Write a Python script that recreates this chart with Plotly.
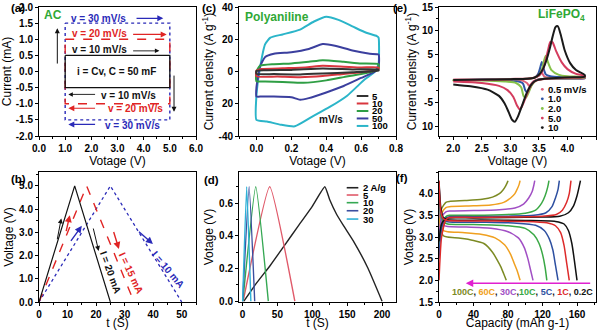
import plotly.graph_objects as go

FONT = "Liberation Sans, Arial, sans-serif"

# ---------------- (a) ideal capacitor CV rectangles ----------------
a_voltage = [1.0, 5.0, 5.0, 1.0, 1.0]
a_i_10 = [0.5, 0.5, -0.5, -0.5, 0.5]
a_i_20 = [1.0, 1.0, -1.0, -1.0, 1.0]
a_i_30 = [1.5, 1.5, -1.5, -1.5, 1.5]

# ---------------- (b) ideal capacitor galvanostatic cycles ----------------
b_v = [0.0, 5.0, 0.0]
b_t_20 = [0.0, 12.5, 25.0]
b_t_15 = [0.0, 16.7, 33.3]
b_t_10 = [0.0, 25.0, 50.0]

# ---------------- (c) polyaniline CV loops (A/g vs V) ----------------
c_rates = ["5", "10", "20", "50", "100"]
c_x_5 = [0.0, 0.0, 0.05, 0.2, 0.38, 0.55, 0.7, 0.7, 0.55, 0.38, 0.25, 0.1, 0.0]
c_y_5 = [-1.5, 0.3, 0.8, 1.0, 1.8, 1.3, 1.2, 0.6, -0.5, -1.3, -1.8, -1.6, -1.5]
c_x_10 = [0.0, 0.0, 0.03, 0.15, 0.28, 0.38, 0.5, 0.6, 0.7, 0.7, 0.6, 0.5, 0.38, 0.25, 0.12, 0.0]
c_y_10 = [-3.0, 0.5, 1.5, 2.0, 2.5, 3.5, 3.0, 2.5, 2.5, 1.5, -0.5, -1.5, -2.8, -3.5, -3.1, -3.0]
c_x_20 = [0.0, 0.0, 0.02, 0.1, 0.2, 0.3, 0.38, 0.5, 0.6, 0.7, 0.7, 0.68, 0.6, 0.5, 0.4, 0.27, 0.15, 0.05, 0.0]
c_y_20 = [-6.0, 0.0, 3.5, 4.5, 5.0, 6.0, 7.0, 6.0, 5.0, 4.5, 1.5, 0.5, -1.5, -3.5, -5.5, -7.0, -6.5, -6.2, -6.0]
c_x_50 = [0.0, 0.0, 0.02, 0.05, 0.1, 0.2, 0.3, 0.38, 0.45, 0.55, 0.65, 0.7, 0.7, 0.68, 0.6, 0.5, 0.4, 0.3, 0.25, 0.2, 0.1, 0.03, 0.0]
c_y_50 = [-15.5, -10.0, 3.0, 9.0, 11.0, 12.0, 14.0, 17.0, 16.0, 13.0, 11.0, 10.5, 3.0, 0.0, -4.0, -9.0, -13.0, -16.5, -17.5, -16.0, -15.5, -15.5, -15.5]
c_x_100 = [0.0, 0.0, 0.02, 0.05, 0.08, 0.15, 0.25, 0.33, 0.4, 0.47, 0.55, 0.63, 0.69, 0.7, 0.7, 0.68, 0.62, 0.52, 0.42, 0.32, 0.22, 0.14, 0.06, 0.0]
c_y_100 = [-30.0, -15.0, 2.0, 17.0, 21.0, 23.0, 26.0, 31.0, 34.0, 32.0, 28.0, 24.0, 22.0, 21.0, 5.0, 0.0, -5.0, -15.0, -22.0, -28.0, -34.0, -33.0, -31.0, -30.0]

# ---------------- (d) polyaniline charge/discharge ----------------
d_rates = ["2 A/g", "5", "10", "20", "30"]
d_t_2 = [2, 20, 40, 60, 80, 100, 118, 125, 135, 145, 160, 180, 200]
d_v_2 = [0.0, 0.11, 0.22, 0.34, 0.46, 0.58, 0.70, 0.62, 0.53, 0.46, 0.36, 0.20, 0.0]
d_t_5 = [1, 39, 75]
d_v_5 = [0.0, 0.70, 0.0]
d_t_10 = [0.5, 19, 37]
d_v_10 = [0.0, 0.70, 0.0]
d_t_20 = [0.3, 9.5, 17.5]
d_v_20 = [0.0, 0.70, 0.0]
d_t_30 = [0.2, 6, 12]
d_v_30 = [0.0, 0.70, 0.0]

# ---------------- (e) LiFePO4 CV (anodic then cathodic sweep) ----------------
e_rates = ["0.5 mV/s", "1.0", "2.0", "5.0", "10"]
e_v_05 = [2.0, 2.5, 3.0, 3.35, 3.45, 3.5, 3.53, 3.56, 3.6, 3.8, 4.3,
          4.3, 3.8, 3.5, 3.42, 3.37, 3.33, 3.29, 3.2, 3.0, 2.5, 2.0]
e_i_05 = [-0.2, -0.15, -0.05, 0.05, 0.4, 1.2, 1.8, 1.1, 0.4, 0.2, 0.1,
          0.05, 0.0, -0.1, -0.4, -1.0, -1.5, -0.9, -0.35, -0.2, -0.2, -0.2]
e_v_1 = [2.0, 2.5, 3.0, 3.3, 3.42, 3.48, 3.52, 3.55, 3.58, 3.62, 3.7, 3.9, 4.3,
         4.3, 4.0, 3.6, 3.48, 3.4, 3.35, 3.3, 3.26, 3.22, 3.1, 2.9, 2.5, 2.0]
e_i_1 = [-0.3, -0.25, -0.1, 0.0, 0.2, 0.8, 2.2, 3.5, 2.2, 0.9, 0.5, 0.3, 0.2,
         0.1, 0.05, 0.0, -0.2, -0.8, -1.8, -2.9, -2.4, -1.0, -0.5, -0.35, -0.3, -0.3]
e_v_2 = [2.0, 2.5, 3.0, 3.3, 3.42, 3.5, 3.55, 3.59, 3.62, 3.66, 3.72, 3.85, 4.0, 4.3,
         4.3, 4.0, 3.6, 3.5, 3.43, 3.37, 3.32, 3.27, 3.23, 3.19, 3.1, 2.9, 2.5, 2.0]
e_i_2 = [-0.4, -0.3, -0.15, 0.0, 0.2, 0.7, 1.8, 3.8, 4.8, 3.4, 1.8, 0.8, 0.5, 0.3,
         0.2, 0.1, 0.0, -0.2, -0.6, -1.5, -2.9, -4.0, -3.6, -1.8, -0.9, -0.6, -0.4, -0.4]
e_v_5 = [2.0, 2.5, 3.0, 3.3, 3.42, 3.5, 3.56, 3.61, 3.66, 3.7, 3.74, 3.8, 3.9, 4.0, 4.15, 4.3,
         4.3, 4.0, 3.7, 3.55, 3.45, 3.38, 3.32, 3.26, 3.2, 3.16, 3.12, 3.05, 2.95, 2.8, 2.5, 2.0]
e_i_5 = [-0.4, -0.3, -0.15, 0.0, 0.2, 0.6, 1.6, 3.4, 6.0, 7.7, 7.6, 5.8, 3.4, 2.0, 1.0, 0.6,
         0.3, 0.2, 0.05, -0.1, -0.4, -1.1, -2.4, -4.2, -5.9, -6.4, -5.7, -3.8, -2.4, -1.5, -0.9, -0.6]
e_v_10 = [2.0, 2.5, 3.0, 3.3, 3.42, 3.5, 3.57, 3.63, 3.69, 3.74, 3.79, 3.83, 3.88, 3.95, 4.05, 4.15, 4.3,
          4.3, 4.1, 3.8, 3.6, 3.5, 3.42, 3.35, 3.28, 3.2, 3.13, 3.08, 3.03, 2.97, 2.9, 2.8, 2.6, 2.3, 2.0]
e_i_10 = [-0.3, -0.2, -0.1, 0.0, 0.2, 0.8, 2.0, 3.8, 6.3, 8.8, 10.8, 11.0, 9.3, 6.0, 3.2, 1.8, 0.8,
          0.4, 0.3, 0.15, 0.0, -0.2, -0.6, -1.5, -3.2, -5.8, -8.0, -9.0, -8.6, -7.0, -5.2, -3.6, -2.3, -1.6, -1.2]

# ---------------- (f) LiFePO4 charge / discharge at various C-rates ----------------
f_rates = ["0.2C", "1C", "5C", "10C", "30C", "60C", "100C"]
f_chg_q_02 = [0, 3, 8, 12, 40, 80, 120, 140, 150, 156, 160, 164]
f_chg_v_02 = [2.9, 3.3, 3.42, 3.44, 3.44, 3.45, 3.46, 3.48, 3.56, 3.72, 3.95, 4.3]
f_dis_q_02 = [0, 2, 5, 10, 50, 100, 135, 145, 150, 154, 157, 160]
f_dis_v_02 = [4.3, 3.7, 3.45, 3.4, 3.39, 3.38, 3.36, 3.3, 3.15, 2.85, 2.45, 2.0]
f_chg_q_1 = [0, 3, 8, 12, 40, 80, 120, 136, 143, 148, 151, 153]
f_chg_v_1 = [2.0, 3.0, 3.4, 3.45, 3.45, 3.46, 3.48, 3.52, 3.62, 3.8, 4.0, 4.3]
f_dis_q_1 = [0, 2, 5, 10, 50, 100, 125, 135, 141, 145, 148, 151]
f_dis_v_1 = [4.3, 3.6, 3.42, 3.38, 3.37, 3.36, 3.33, 3.26, 3.1, 2.8, 2.4, 2.0]
f_chg_q_5 = [0, 3, 8, 12, 40, 80, 110, 124, 131, 135, 138, 139.5]
f_chg_v_5 = [2.5, 3.2, 3.44, 3.47, 3.47, 3.48, 3.5, 3.56, 3.7, 3.9, 4.1, 4.3]
f_dis_q_5 = [0, 2, 5, 10, 50, 90, 112, 122, 128, 132, 135, 138]
f_dis_v_5 = [4.25, 3.6, 3.4, 3.35, 3.34, 3.32, 3.27, 3.15, 2.95, 2.7, 2.35, 2.0]
f_chg_q_10 = [0, 3, 8, 12, 40, 80, 100, 112, 119, 123, 126, 127.5]
f_chg_v_10 = [2.8, 3.3, 3.47, 3.5, 3.5, 3.52, 3.55, 3.62, 3.78, 3.95, 4.15, 4.3]
f_dis_q_10 = [0, 2, 5, 10, 40, 80, 100, 110, 116, 120, 123, 125]
f_dis_v_10 = [4.2, 3.5, 3.35, 3.3, 3.29, 3.26, 3.2, 3.05, 2.85, 2.6, 2.3, 2.0]
f_chg_q_30 = [0, 3, 8, 12, 40, 70, 88, 98, 104, 108, 110, 111]
f_chg_v_30 = [3.0, 3.45, 3.58, 3.6, 3.61, 3.63, 3.67, 3.76, 3.9, 4.05, 4.2, 4.3]
f_dis_q_30 = [0, 2, 5, 10, 30, 60, 80, 92, 99, 103, 106, 109]
f_dis_v_30 = [4.1, 3.4, 3.27, 3.24, 3.23, 3.2, 3.12, 2.98, 2.75, 2.5, 2.25, 2.0]
f_chg_q_60 = [0, 3, 8, 12, 40, 60, 75, 83, 88, 91, 93, 94]
f_chg_v_60 = [3.2, 3.55, 3.68, 3.7, 3.72, 3.74, 3.8, 3.9, 4.0, 4.12, 4.22, 4.3]
f_dis_q_60 = [0, 2, 5, 10, 30, 50, 65, 76, 83, 87, 91, 94]
f_dis_v_60 = [4.0, 3.3, 3.15, 3.12, 3.1, 3.06, 2.98, 2.82, 2.6, 2.4, 2.2, 2.0]
f_chg_q_100 = [0, 3, 8, 12, 30, 50, 62, 70, 74, 77, 79, 80]
f_chg_v_100 = [3.3, 3.65, 3.8, 3.82, 3.84, 3.87, 3.92, 4.0, 4.08, 4.17, 4.25, 4.3]
f_dis_q_100 = [0, 2, 5, 10, 25, 40, 52, 62, 68, 72, 75, 78]
f_dis_v_100 = [3.9, 3.2, 3.03, 3.0, 2.97, 2.92, 2.85, 2.65, 2.45, 2.3, 2.15, 2.0]

# ---------------- colours ----------------
BLACK, RED, BLUE = "#111111", "#e02424", "#2a2ab8"
GREEN_TXT = "#2fa836"
c_colors = ["#333333", "#d9363e", "#2f9e44", "#3b3f9e", "#2bb5c9"]
d_colors = ["#222222", "#e05a6a", "#35a853", "#3b4fa0", "#2fb0d6"]
e_colors = ["#e0607a", "#2f56a6", "#86c24a", "#d43c5e", "#1a1a1a"]
f_colors = ["#111111", "#dd2a2a", "#2d4fa0", "#3aa845", "#a14fc4", "#f0a020", "#7c8a23"]

fig = go.Figure()


def line(x, y, xa, ya, color, width=1.5, dash="solid", shape="linear", smoothing=0.6):
    fig.add_trace(go.Scatter(
        x=x, y=y, xaxis=xa, yaxis=ya, mode="lines", showlegend=False, hoverinfo="skip",
        line=dict(color=color, width=width, dash=dash, shape=shape,
                  smoothing=smoothing if shape == "spline" else None)))


# (a)
line(a_voltage, a_i_30, "x", "y", BLUE, 1.4, "dot")
line(a_voltage, a_i_20, "x", "y", RED, 1.4, "dash")
line(a_voltage, a_i_10, "x", "y", BLACK, 1.3)

# (b)
line(b_t_10, b_v, "x4", "y4", BLUE, 1.3, "dot")
line(b_t_15, b_v, "x4", "y4", RED, 1.4, "dash")
line(b_t_20, b_v, "x4", "y4", BLACK, 1.2)

# (c)
c_x = [c_x_5, c_x_10, c_x_20, c_x_50, c_x_100]
c_y = [c_y_5, c_y_10, c_y_20, c_y_50, c_y_100]
for xs, ys, col in reversed(list(zip(c_x, c_y, c_colors))):
    line(xs, ys, "x2", "y2", col, 2.0, shape="spline", smoothing=0.5)

# (d)
d_t = [d_t_2, d_t_5, d_t_10, d_t_20, d_t_30]
d_v = [d_v_2, d_v_5, d_v_10, d_v_20, d_v_30]
for xs, ys, col in zip(d_t, d_v, d_colors):
    line(xs, ys, "x5", "y5", col, 1.4, shape="spline", smoothing=0.4)

# (e)
e_v = [e_v_05, e_v_1, e_v_2, e_v_5, e_v_10]
e_i = [e_i_05, e_i_1, e_i_2, e_i_5, e_i_10]
for xs, ys, col in zip(e_v, e_i, e_colors):
    line(xs, ys, "x3", "y3", col, 2.0, shape="spline", smoothing=0.6)

# (f)
f_chg = [(f_chg_q_02, f_chg_v_02), (f_chg_q_1, f_chg_v_1), (f_chg_q_5, f_chg_v_5),
         (f_chg_q_10, f_chg_v_10), (f_chg_q_30, f_chg_v_30), (f_chg_q_60, f_chg_v_60),
         (f_chg_q_100, f_chg_v_100)]
f_dis = [(f_dis_q_02, f_dis_v_02), (f_dis_q_1, f_dis_v_1), (f_dis_q_5, f_dis_v_5),
         (f_dis_q_10, f_dis_v_10), (f_dis_q_30, f_dis_v_30), (f_dis_q_60, f_dis_v_60),
         (f_dis_q_100, f_dis_v_100)]
order = [6, 5, 4, 3, 2, 0, 1]
for k in order:
    line(*f_chg[k], "x6", "y6", f_colors[k], 1.5, shape="spline", smoothing=0.6)
    line(*f_dis[k], "x6", "y6", f_colors[k], 1.5, shape="spline", smoothing=0.6)

# ---------------- axes ----------------
TICKFONT = dict(family=FONT, size=10, color="black", weight="bold")
TITLEFONT = dict(family=FONT, size=12, color="black")


def axis(domain, rng, title, standoff, **kw):
    d = dict(domain=domain, range=rng, showline=True, linecolor="black", linewidth=1,
             mirror=True, ticks="outside", ticklen=3, tickwidth=1, tickcolor="black",
             showgrid=False, zeroline=False, tickfont=TICKFONT, automargin=False,
             title=dict(text=title, font=TITLEFONT, standoff=standoff))
    d.update(kw)
    return d


X1, X2, X3 = [39 / 600, 196 / 600], [239 / 600, 396 / 600], [439 / 600, 596 / 600]
YT, YB = [1 - 136 / 330, 1 - 7 / 330], [1 - 302 / 330, 1 - 172 / 330]


def minor(dt):
    return dict(ticks="outside", ticklen=2, tickcolor="black", dtick=dt, showgrid=False)


fig.update_layout(
    xaxis=axis(X1, [0, 6], "Votage (V)", 0, anchor="y", tickvals=[0, 1, 2, 3, 4, 5, 6],
               ticktext=["0.0", "1.0", "2.0", "3.0", "4.0", "5.0", "6.0"], minor=minor(0.5)),
    yaxis=axis(YT, [-2, 2], "Current (mA)", 2, anchor="x", tickvals=[-2, -1.5, -1, -0.5, 0, 0.5, 1, 1.5, 2],
               ticktext=["-2.0", "-1.5", "-1.0", "-0.5", "0.0", "0.5", "1.0", "1.5", "2.0"]),
    xaxis2=axis(X2, [-0.1, 0.8], "Votage (V)", 0, anchor="y2", tickvals=[0, 0.2, 0.4, 0.6, 0.8],
                ticktext=["0.0", "0.2", "0.4", "0.6", "0.8"], minor=minor(0.1)),
    yaxis2=axis(YT, [-40, 40], "Current density (A g<sup>-1</sup>)", 2, anchor="x2",
                tickvals=[-40, -20, 0, 20, 40], ticktext=["-40", "20", "0", "20", "40"], minor=minor(10)),
    xaxis3=axis(X3, [1.75, 4.5], "Voltage (V)", 0, anchor="y3", tickvals=[2, 2.5, 3, 3.5, 4, 4.5],
                ticktext=["2.0", "2.5", "3.0", "3.5", "4.0", "4.5"], minor=minor(0.25)),
    yaxis3=axis(YT, [-12, 15], "Current density (A g<sup>-1</sup>)", 2, anchor="x3",
                tickvals=[-10, -5, 0, 5, 10, 15], ticktext=["10", "-5", "0", "5", "10", "15"], minor=minor(2.5)),
    xaxis4=axis(X1, [0, 55], "t (S)", 0, anchor="y4", tickvals=[0, 10, 20, 30, 40, 50], minor=minor(5)),
    yaxis4=axis(YB, [0, 5.6], "Voltage (V)", 2, anchor="x4", tickvals=[0, 1, 2, 3, 4, 5],
                ticktext=["0.0", "1.0", "2.0", "3.0", "4.0", "5.0"], minor=minor(0.5)),
    xaxis5=axis(X2, [-5, 220], "t (S)", 0, anchor="y5", tickvals=[0, 50, 100, 150, 200], minor=minor(25)),
    yaxis5=axis(YB, [-0.005, 0.79], "Votage (V)", 2, anchor="x5", tickvals=[0, 0.2, 0.4, 0.6],
                ticktext=["0.0", "0.2", "0.4", "0.6"], minor=minor(0.1)),
    xaxis6=axis(X3, [0, 182], "Capacity (mAh g-1)", 0, anchor="y6", tickvals=[0, 40, 80, 120, 160], minor=minor(20)),
    yaxis6=axis(YB, [1.5, 4.5], "Votage (V)", 2, anchor="x6", tickvals=[1.5, 2, 2.5, 3, 3.5, 4],
                ticktext=["1.5", "2.0", "2.5", "3.0", "3.5", "4.0"], minor=minor(0.25)),
)

ann = []
shapes = []


def text(x, y, s, xref, yref, color="black", size=10, bold=True, **kw):
    kw.setdefault("yanchor", "middle")
    ann.append(dict(x=x, y=y, xref=xref, yref=yref, text=s, showarrow=False,
                    font=dict(family=FONT, size=size, color=color, weight="bold" if bold else "normal"), **kw))


def arrow(x0, y0, x1, y1, xr, yr, color, width=1.2):
    ann.append(dict(x=x1, y=y1, ax=x0, ay=y0, xref=xr, yref=yr, axref=xr, ayref=yr, text="",
                    showarrow=True, arrowhead=2, arrowsize=1, arrowwidth=width, arrowcolor=color))


# panel labels
for lab, px, py in [("(a)", 9, 8), ("(c)", 209, 8), ("(e)", 409, 8),
                    ("(b)", 9, 179), ("(d)", 211, 180), ("(f)", 410, 178)]:
    text(px / 600, 1 - py / 330, lab, "paper", "paper", size=11.5)

# (a) annotations
text(0.52, 1.75, "AC", "x", "y", GREEN_TXT, 12)
text(2.29, 1.65, "v = 30 mV/s", "x", "y", BLUE)
text(2.33, 1.18, "v = 20 mV/s", "x", "y", RED)
text(2.33, 0.67, "v = 10 mV/s", "x", "y", BLACK)
text(2.95, 0.0, "i = Cv, C = 50 mF", "x", "y", BLACK)
text(3.41, -0.75, "v = 10 mV/s", "x", "y", BLACK)
text(3.67, -1.16, "v = 20 mV/s", "x", "y", RED)
text(3.58, -1.68, "v = 30 mV/s", "x", "y", BLUE)
arrow(3.67, 1.65, 4.75, 1.65, "x", "y", BLUE)
arrow(3.54, 1.15, 4.88, 1.15, "x", "y", RED)
arrow(3.54, 0.64, 4.6, 0.64, "x", "y", BLACK, 0.9)
arrow(2.2, -0.71, 1.12, -0.71, "x", "y", BLACK, 0.9)
arrow(2.2, -1.14, 1.12, -1.14, "x", "y", RED)
arrow(2.2, -1.64, 1.12, -1.64, "x", "y", BLUE)
arrow(0.7, 0.2, 0.7, 1.34, "x", "y", BLACK, 1.0)
arrow(5.16, -0.08, 5.16, -1.25, "x", "y", BLACK, 1.0)

# (b) annotations
arrow(6.3, 2.64, 7.8, 3.6, "x4", "y4", BLACK, 1.0)
arrow(9.4, 2.99, 10.8, 3.74, "x4", "y4", RED, 1.4)
arrow(10.8, 2.57, 15.0, 3.28, "x4", "y4", BLUE, 1.4)
arrow(18.9, 3.23, 20.9, 2.2, "x4", "y4", BLACK, 1.0)
arrow(26.0, 3.08, 28.0, 2.28, "x4", "y4", RED, 1.4)
arrow(34.5, 3.08, 39.9, 2.5, "x4", "y4", BLUE, 1.4)
text(25.0, 1.26, "I = 20 mA", "x4", "y4", BLACK, textangle=70)
text(32.1, 1.26, "I = 15 mA", "x4", "y4", RED, textangle=65)
text(45.2, 1.4, "I = 10 mA", "x4", "y4", BLUE, textangle=50)

# (c) annotations + legend
text(-0.075, 34, "Polyaniline", "x2", "y2", GREEN_TXT, 12, xanchor="left")
text(0.43, -29.5, "mV/s", "x2", "y2", BLACK)
c_rows = [0.31, 0.252, 0.194, 0.136, 0.078]
for lab, col, yy in zip(c_rates, c_colors, c_rows):
    shapes.append(dict(type="line", xref="x2 domain", yref="y2 domain", x0=0.75, x1=0.824,
                       y0=yy, y1=yy, line=dict(color=col, width=2)))
    text(0.834, yy, lab, "x2 domain", "y2 domain", size=9.5, xanchor="left")

# (d) legend
d_rows = [0.879, 0.823, 0.764, 0.702, 0.638]
for lab, col, yy in zip(d_rates, d_colors, d_rows):
    shapes.append(dict(type="line", xref="x5 domain", yref="y5 domain", x0=0.686, x1=0.76,
                       y0=yy, y1=yy, line=dict(color=col, width=1.6)))
    text(0.775, yy, lab, "x5 domain", "y5 domain", size=9.5, xanchor="left")

# (e) annotations + legend
text(3.89, 13.3, "LiFePO<sub>4</sub>", "x3", "y3", GREEN_TXT, 12)
e_rows = [0.362, 0.288, 0.213, 0.139, 0.065]
for lab, col, yy in zip(e_rates, e_colors, e_rows):
    shapes.append(dict(type="circle", xref="x3 domain", yref="y3 domain", x0=0.649, x1=0.667,
                       y0=yy - 0.011, y1=yy + 0.011, line=dict(width=0), fillcolor=col))
    text(0.68, yy, lab, "x3 domain", "y3 domain", size=9.5, xanchor="left")

# (f) annotations
arrow(177, 1.93, 31, 1.93, "x6", "y6", "#e020d0", 1.5)
f_label = ", ".join(
    f"<span style='color:{f_colors[k]}'>{f_rates[k]}</span>" for k in [6, 5, 4, 3, 2, 1, 0])
text(97, 1.74, f_label.replace("30C</span>, ", "30C</span>,"), "x6", "y6", BLACK, 9)

fig.update_layout(
    annotations=ann, shapes=shapes,
    width=600, height=330, margin=dict(l=0, r=0, t=0, b=0),
    paper_bgcolor="white", plot_bgcolor="white", showlegend=False,
    font=dict(family=FONT, color="black"),
)

fig.write_html("out.html")
